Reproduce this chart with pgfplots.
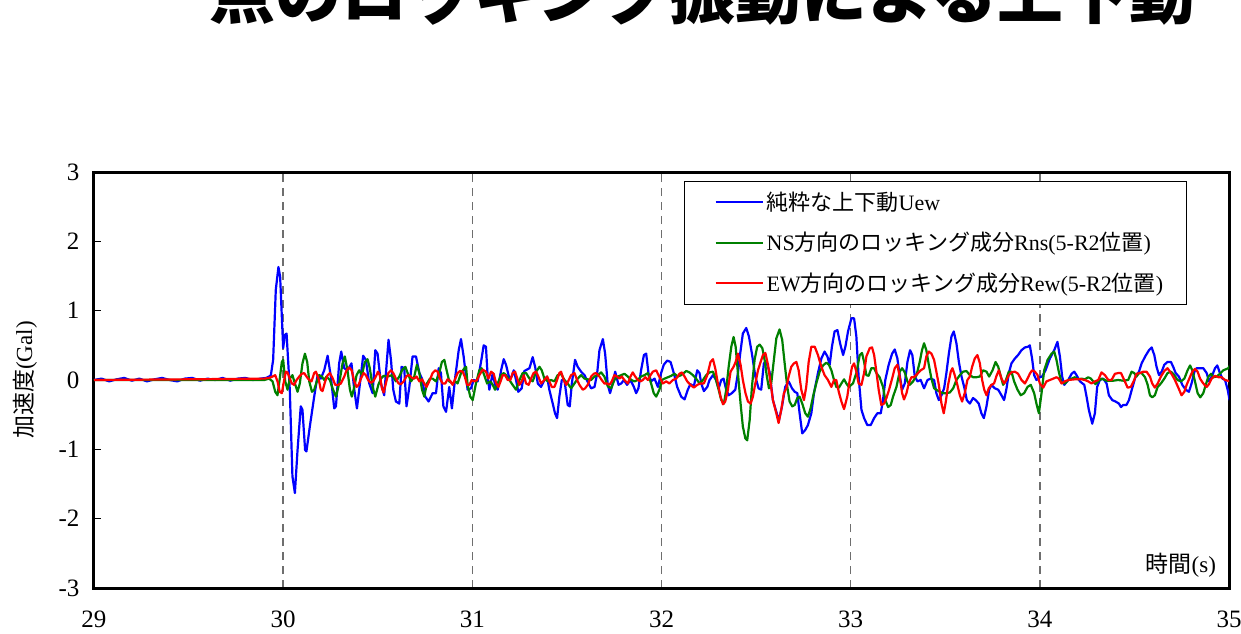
\documentclass[border=0pt]{standalone}
\usepackage{pgfplots}
\pgfplotsset{compat=1.18}
\usepackage{pgfplotstable}
\usepackage{fontspec}
\setmainfont{Liberation Serif}
\newfontfamily\ja{Noto Sans CJK JP}
\definecolor{cblue}{RGB}{0,0,255}
\definecolor{cgreen}{RGB}{0,128,0}
\definecolor{cred}{RGB}{255,0,0}
\definecolor{cgrid}{RGB}{110,110,110}

\pgfplotstableread{
t v
29.00 0.00
29.04 0.02
29.08 -0.02
29.12 0.01
29.16 0.03
29.20 -0.01
29.24 0.02
29.28 -0.02
29.32 0.01
29.36 0.03
29.40 0.00
29.44 -0.02
29.48 0.02
29.52 0.03
29.56 -0.01
29.60 0.02
29.64 0.00
29.68 0.03
29.72 -0.01
29.76 0.02
29.80 0.03
29.84 0.00
29.88 0.02
29.91 0.03
29.926 0.05
29.935 0.07
29.947 0.29
29.961 1.30
29.975 1.63
29.984 1.49
29.993 0.91
30.000 0.46
30.009 0.65
30.018 0.67
30.026 0.29
30.035 -0.14
30.049 -1.39
30.062 -1.63
30.076 -1.01
30.093 -0.38
30.102 -0.43
30.116 -1.01
30.123 -1.03
30.141 -0.67
30.164 -0.24
30.182 0.07
30.199 0.02
30.217 0.14
30.235 0.35
30.252 0.05
30.270 -0.41
30.279 -0.38
30.296 0.24
30.307 0.41
30.323 0.17
30.340 0.14
30.361 0.24
30.376 -0.14
30.390 -0.41
30.406 -0.05
30.423 0.35
30.437 0.29
30.455 -0.05
30.473 -0.19
30.487 0.43
30.499 0.38
30.517 -0.05
30.534 -0.22
30.557 0.58
30.570 0.29
30.582 -0.14
30.596 -0.31
30.614 -0.34
30.626 0.19
30.640 0.17
30.652 -0.38
30.667 -0.10
30.684 0.34
30.702 0.34
30.720 0.10
30.734 0.02
30.751 -0.24
30.769 -0.31
30.790 -0.19
30.808 -0.19
30.822 0.17
30.834 0.10
30.847 -0.38
30.861 -0.46
30.878 -0.10
30.892 -0.41
30.910 0.05
30.928 0.43
30.940 0.59
30.954 0.34
30.975 -0.14
30.993 -0.12
31.007 0.00
31.028 -0.02
31.049 0.31
31.060 0.50
31.072 0.48
31.081 0.05
31.090 -0.14
31.108 0.10
31.120 -0.07
31.134 -0.14
31.152 0.14
31.166 0.30
31.178 0.22
31.196 0.02
31.208 0.05
31.219 0.14
31.231 0.00
31.243 -0.17
31.261 -0.12
31.275 0.13
31.302 0.17
31.319 0.33
31.332 0.19
31.346 -0.05
31.363 -0.10
31.381 0.00
31.395 0.05
31.407 -0.14
31.425 -0.34
31.437 -0.48
31.448 -0.55
31.460 -0.24
31.473 0.00
31.487 0.00
31.504 -0.36
31.515 -0.38
31.526 -0.05
31.543 0.29
31.557 0.19
31.575 0.12
31.593 0.07
31.614 -0.05
31.628 -0.12
31.646 -0.10
31.660 0.10
31.672 0.43
31.690 0.59
31.702 0.38
31.716 -0.07
31.728 -0.19
31.742 -0.05
31.755 0.12
31.773 -0.07
31.787 -0.05
31.801 0.00
31.818 -0.07
31.836 0.00
31.854 -0.10
31.866 -0.19
31.878 -0.12
31.892 0.14
31.907 0.36
31.919 0.38
31.931 0.10
31.945 -0.02
31.963 0.02
31.981 -0.10
31.998 0.10
32.012 0.22
32.030 0.28
32.048 0.26
32.065 0.10
32.083 -0.10
32.104 -0.24
32.122 -0.28
32.139 -0.14
32.153 -0.06
32.171 -0.09
32.189 0.14
32.201 0.10
32.210 -0.05
32.224 -0.16
32.242 -0.10
32.254 0.00
32.272 0.07
32.289 0.00
32.302 -0.12
32.316 0.00
32.328 0.02
32.342 -0.14
32.355 -0.22
32.372 -0.19
32.390 -0.14
32.404 0.10
32.416 0.38
32.430 0.67
32.448 0.75
32.462 0.63
32.478 0.38
32.496 0.05
32.513 -0.12
32.527 -0.14
32.541 0.24
32.554 0.26
32.571 0.12
32.589 -0.29
32.607 -0.46
32.621 -0.58
32.637 -0.38
32.654 -0.10
32.672 -0.02
32.690 -0.12
32.704 -0.17
32.718 -0.19
32.730 -0.48
32.744 -0.77
32.760 -0.72
32.774 -0.65
32.792 -0.48
32.806 -0.19
32.827 0.10
32.845 0.31
32.862 0.41
32.877 0.34
32.889 0.22
32.901 0.48
32.915 0.70
32.930 0.72
32.944 0.53
32.960 0.36
32.972 0.48
32.986 0.70
33.004 0.89
33.018 0.89
33.030 0.63
33.042 0.05
33.057 -0.43
33.071 -0.55
33.088 -0.65
33.106 -0.65
33.124 -0.55
33.141 -0.48
33.159 -0.48
33.171 -0.29
33.183 0.00
33.201 0.22
33.219 0.38
33.233 0.44
33.247 0.31
33.259 0.07
33.272 -0.14
33.286 -0.05
33.300 0.26
33.314 0.43
33.326 0.36
33.339 0.05
33.353 -0.02
33.370 0.00
33.388 -0.12
33.406 0.00
33.423 0.02
33.441 0.00
33.453 -0.19
33.466 -0.29
33.480 -0.22
33.494 -0.12
33.506 0.10
33.519 0.38
33.533 0.63
33.545 0.70
33.559 0.53
33.572 0.26
33.586 0.05
33.600 -0.10
33.614 -0.29
33.630 -0.34
33.647 -0.26
33.661 -0.29
33.677 -0.34
33.691 -0.48
33.704 -0.55
33.718 -0.38
33.732 -0.14
33.744 -0.07
33.762 -0.12
33.780 -0.14
33.797 -0.22
33.811 -0.29
33.824 -0.12
33.836 0.10
33.850 0.24
33.868 0.31
33.885 0.36
33.903 0.43
33.921 0.47
33.938 0.48
33.947 0.50
33.959 0.31
33.970 0.07
33.982 0.00
34.000 0.04
34.012 0.05
34.030 0.14
34.053 0.31
34.076 0.43
34.093 0.55
34.106 0.34
34.118 0.05
34.129 -0.07
34.150 0.00
34.168 0.09
34.182 0.12
34.194 0.07
34.212 -0.02
34.235 -0.07
34.247 -0.24
34.259 -0.43
34.277 -0.63
34.291 -0.48
34.303 -0.10
34.317 0.00
34.335 0.02
34.353 -0.05
34.365 -0.22
34.383 -0.29
34.400 -0.31
34.418 -0.34
34.429 -0.39
34.441 -0.36
34.458 -0.36
34.471 -0.29
34.488 -0.12
34.506 0.05
34.524 0.12
34.538 0.24
34.559 0.35
34.577 0.43
34.591 0.47
34.605 0.36
34.617 0.19
34.630 0.07
34.644 0.12
34.658 0.22
34.675 0.26
34.693 0.26
34.705 0.19
34.718 0.10
34.735 0.05
34.753 -0.07
34.771 -0.14
34.788 -0.17
34.802 -0.05
34.817 0.12
34.829 0.17
34.847 0.17
34.864 0.17
34.882 0.10
34.894 -0.02
34.912 0.07
34.926 0.17
34.938 0.21
34.952 0.10
34.965 0.02
34.979 0.00
34.993 -0.14
35.003 -0.29
}\uew

\pgfplotstableread{
t v
29.00 0.00
29.50 0.00
29.90 0.00
29.926 0.02
29.944 -0.02
29.958 -0.17
29.970 -0.22
29.982 0.02
29.993 0.26
30.000 0.29
30.011 -0.02
30.023 -0.14
30.035 0.02
30.049 0.07
30.062 -0.05
30.076 -0.17
30.088 -0.05
30.102 0.24
30.115 0.38
30.127 0.26
30.138 -0.02
30.152 -0.17
30.164 -0.14
30.178 -0.02
30.190 0.07
30.205 0.05
30.217 0.00
30.229 0.05
30.247 0.00
30.261 -0.12
30.279 -0.24
30.296 -0.05
30.314 0.24
30.326 0.34
30.340 0.14
30.353 -0.14
30.363 -0.24
30.376 -0.10
30.388 0.07
30.402 0.14
30.416 0.07
30.432 0.26
30.446 0.30
30.458 0.17
30.473 -0.10
30.487 -0.24
30.503 -0.07
30.517 0.02
30.531 0.06
30.552 0.05
30.575 0.07
30.596 -0.02
30.614 0.05
30.628 0.14
30.646 0.19
30.658 0.10
30.676 -0.02
30.693 0.05
30.707 0.22
30.720 0.10
30.734 -0.14
30.746 -0.24
30.760 -0.05
30.776 0.02
30.790 0.02
30.808 -0.02
30.825 0.10
30.839 0.26
30.852 0.29
30.864 0.14
30.878 -0.02
30.896 -0.05
30.910 -0.02
30.922 -0.05
30.940 0.10
30.958 0.17
30.967 0.19
30.975 -0.07
30.989 -0.24
31.002 -0.29
31.019 -0.05
31.037 0.14
31.049 0.17
31.063 0.07
31.078 -0.05
31.095 -0.02
31.108 -0.07
31.120 -0.14
31.134 -0.05
31.152 0.07
31.166 0.10
31.178 0.07
31.196 0.00
31.213 -0.07
31.231 -0.14
31.249 0.00
31.266 0.10
31.284 0.10
31.302 0.02
31.319 -0.02
31.337 0.12
31.355 0.19
31.367 0.14
31.381 0.02
31.399 -0.02
31.416 0.00
31.434 -0.02
31.451 0.07
31.469 0.09
31.487 0.00
31.504 -0.05
31.522 -0.12
31.540 -0.05
31.557 0.02
31.575 0.07
31.593 0.02
31.628 0.00
31.646 0.05
31.663 0.07
31.681 0.11
31.698 0.05
31.716 -0.09
31.734 -0.12
31.751 0.00
31.769 0.05
31.787 0.07
31.804 0.09
31.822 0.05
31.840 0.00
31.857 -0.02
31.875 0.00
31.892 0.05
31.910 0.07
31.928 0.10
31.945 -0.05
31.959 -0.19
31.972 -0.24
31.989 -0.14
32.002 0.00
32.016 0.02
32.034 0.04
32.051 0.06
32.069 0.09
32.086 0.05
32.104 0.07
32.131 0.13
32.148 0.11
32.166 0.07
32.183 0.02
32.201 -0.05
32.219 0.00
32.236 0.07
32.254 0.11
32.272 0.12
32.286 0.02
32.302 -0.14
32.316 -0.29
32.330 -0.34
32.342 -0.14
32.355 0.19
32.369 0.48
32.381 0.62
32.392 0.48
32.404 0.10
32.418 -0.34
32.430 -0.67
32.443 -0.84
32.453 -0.87
32.466 -0.58
32.478 -0.10
32.492 0.29
32.506 0.48
32.519 0.51
32.533 0.46
32.545 0.29
32.557 0.05
32.568 -0.12
32.580 -0.05
32.594 0.29
32.607 0.60
32.624 0.73
32.638 0.58
32.651 0.24
32.665 -0.10
32.677 -0.31
32.691 -0.38
32.704 -0.36
32.718 -0.26
32.730 -0.24
32.744 -0.34
32.760 -0.48
32.774 -0.53
32.788 -0.41
32.801 -0.24
32.818 -0.05
32.836 0.12
32.854 0.21
32.871 0.25
32.885 0.22
32.898 0.14
32.912 0.00
32.924 -0.10
32.938 -0.11
32.951 -0.05
32.965 0.01
32.977 -0.05
32.990 -0.10
33.012 -0.05
33.030 0.10
33.048 0.36
33.060 0.39
33.071 0.26
33.083 0.07
33.095 0.06
33.109 0.17
33.124 0.17
33.136 0.10
33.153 0.04
33.171 -0.10
33.183 -0.29
33.198 -0.39
33.212 -0.36
33.224 -0.24
33.242 -0.10
33.259 0.12
33.272 0.17
33.286 0.11
33.300 -0.02
33.312 -0.07
33.330 -0.02
33.348 0.07
33.365 0.26
33.377 0.43
33.388 0.53
33.400 0.43
33.413 0.22
33.427 0.02
33.441 -0.12
33.453 -0.14
33.471 -0.17
33.489 -0.19
33.506 -0.19
33.524 -0.18
33.542 -0.12
33.559 0.00
33.577 0.07
33.594 0.12
33.612 0.13
33.630 0.07
33.647 0.04
33.665 0.04
33.683 0.05
33.700 0.14
33.718 0.12
33.732 0.05
33.750 0.14
33.766 0.26
33.780 0.19
33.794 0.05
33.806 -0.07
33.818 -0.02
33.836 0.12
33.850 0.12
33.864 -0.02
33.882 -0.14
33.899 -0.22
33.917 -0.19
33.935 -0.10
33.952 -0.07
33.970 -0.19
33.982 -0.34
33.995 -0.48
34.009 -0.19
34.023 0.14
34.041 0.29
34.062 0.38
34.076 0.41
34.088 0.29
34.100 0.12
34.115 -0.04
34.132 -0.05
34.150 0.00
34.168 0.02
34.185 0.04
34.203 0.01
34.220 0.02
34.238 0.01
34.256 0.04
34.270 0.02
34.282 -0.02
34.294 -0.06
34.309 -0.02
34.326 0.02
34.353 -0.01
34.388 -0.01
34.414 0.00
34.441 -0.01
34.467 0.00
34.485 0.12
34.499 0.10
34.511 0.05
34.524 0.10
34.538 0.10
34.556 0.04
34.570 -0.07
34.582 -0.22
34.594 -0.25
34.608 -0.22
34.623 -0.10
34.640 -0.05
34.658 0.02
34.675 0.10
34.693 0.12
34.711 0.07
34.728 0.00
34.746 -0.02
34.764 0.02
34.781 0.14
34.794 0.21
34.806 0.14
34.820 -0.02
34.834 -0.19
34.848 -0.25
34.864 -0.19
34.877 -0.07
34.891 0.05
34.905 0.09
34.917 0.04
34.935 0.05
34.952 0.09
34.970 0.14
34.996 0.17
35.007 0.22
}\rns

\pgfplotstableread{
t v
29.00 0.00
29.50 0.01
29.90 0.02
29.926 0.03
29.944 0.05
29.958 0.07
29.970 -0.02
29.982 -0.17
29.993 -0.19
30.002 -0.05
30.014 0.12
30.023 0.11
30.035 0.02
30.046 -0.05
30.058 -0.07
30.071 0.00
30.085 0.05
30.099 0.09
30.111 0.10
30.123 0.05
30.138 0.00
30.150 -0.02
30.164 0.10
30.173 0.12
30.187 0.02
30.199 -0.14
30.208 -0.16
30.222 -0.02
30.235 0.07
30.247 0.10
30.261 0.03
30.275 -0.07
30.291 -0.07
30.305 -0.05
30.323 0.05
30.335 0.14
30.349 0.18
30.362 0.14
30.376 -0.02
30.388 -0.10
30.399 -0.07
30.411 0.02
30.425 0.10
30.437 0.07
30.451 -0.01
30.464 -0.04
30.476 -0.02
30.490 0.05
30.501 0.12
30.511 0.07
30.522 -0.12
30.531 -0.18
30.543 -0.05
30.556 0.10
30.570 0.14
30.582 0.10
30.596 0.02
30.610 -0.05
30.623 -0.06
30.637 -0.02
30.653 0.06
30.667 0.07
30.681 0.03
30.693 0.02
30.705 0.05
30.720 -0.02
30.734 0.01
30.746 -0.05
30.758 -0.10
30.772 -0.02
30.790 0.10
30.804 0.14
30.817 0.12
30.829 0.02
30.843 -0.05
30.857 -0.05
30.869 0.01
30.882 -0.01
30.896 -0.07
30.910 0.02
30.922 0.10
30.935 0.13
30.949 0.12
30.960 0.05
30.972 -0.07
30.984 -0.07
30.997 0.00
31.011 -0.02
31.025 0.00
31.037 0.07
31.055 0.15
31.072 0.12
31.085 0.02
31.099 0.12
31.113 0.09
31.125 -0.04
31.138 -0.10
31.152 0.00
31.160 0.07
31.173 0.07
31.187 0.00
31.201 0.00
31.213 0.10
31.226 0.12
31.240 0.00
31.249 -0.07
31.261 -0.02
31.272 0.07
31.284 -0.05
31.298 -0.07
31.310 0.02
31.324 0.10
31.337 0.12
31.349 0.05
31.363 -0.05
31.381 0.00
31.395 0.05
31.407 -0.02
31.420 -0.10
31.434 -0.10
31.448 0.00
31.460 0.10
31.469 0.12
31.483 0.00
31.496 -0.07
31.508 -0.01
31.522 0.07
31.540 0.10
31.554 0.00
31.566 -0.07
31.584 -0.14
31.596 -0.12
31.610 -0.07
31.628 0.05
31.642 0.09
31.654 0.10
31.672 0.05
31.684 0.00
31.698 -0.05
31.713 -0.05
31.725 -0.07
31.737 -0.02
31.751 0.07
31.765 0.05
31.778 0.02
31.790 0.05
31.804 0.00
31.822 -0.05
31.836 0.05
31.848 0.11
31.861 0.05
31.875 0.00
31.889 -0.02
31.901 0.00
31.914 0.04
31.928 0.00
31.942 0.07
31.954 0.12
31.972 0.14
31.984 0.07
31.998 0.00
32.007 -0.05
32.025 -0.02
32.042 -0.05
32.060 0.00
32.078 0.02
32.095 0.09
32.108 0.11
32.122 0.05
32.136 -0.02
32.153 -0.07
32.171 -0.11
32.189 -0.07
32.206 -0.05
32.224 -0.05
32.242 0.07
32.259 0.26
32.272 0.30
32.284 0.17
32.298 -0.05
32.312 -0.24
32.325 -0.35
32.337 -0.31
32.351 -0.14
32.365 0.12
32.381 0.19
32.392 0.26
32.404 0.38
32.418 0.22
32.430 0.00
32.444 -0.19
32.457 -0.31
32.471 -0.34
32.483 -0.24
32.496 -0.05
32.510 0.14
32.524 0.26
32.536 0.36
32.549 0.39
32.563 0.22
32.577 -0.05
32.589 -0.29
32.607 -0.48
32.619 -0.62
32.633 -0.43
32.647 -0.19
32.660 -0.12
32.672 0.05
32.686 0.19
32.700 0.24
32.713 0.26
32.725 0.14
32.739 -0.14
32.753 -0.29
32.765 -0.10
32.778 0.26
32.792 0.48
32.810 0.48
32.827 0.36
32.845 0.19
32.862 0.07
32.880 0.00
32.898 -0.10
32.912 0.00
32.924 0.00
32.937 -0.17
32.951 -0.31
32.965 -0.42
32.982 -0.24
32.995 0.00
33.007 0.19
33.018 0.24
33.030 0.12
33.042 -0.05
33.057 -0.07
33.071 0.10
33.083 0.34
33.101 0.46
33.113 0.47
33.124 0.36
33.136 0.12
33.148 -0.14
33.162 -0.36
33.176 -0.34
33.189 -0.26
33.203 -0.14
33.219 0.02
33.233 0.17
33.247 0.22
33.259 0.05
33.272 -0.19
33.282 -0.28
33.295 -0.19
33.307 -0.05
33.321 0.04
33.335 0.04
33.353 0.09
33.370 0.14
33.388 0.17
33.400 0.34
33.413 0.41
33.427 0.38
33.441 0.29
33.453 0.12
33.466 -0.07
33.480 -0.34
33.492 -0.48
33.503 -0.31
33.515 -0.07
33.529 0.12
33.538 0.17
33.550 0.07
33.564 -0.07
33.577 -0.22
33.589 -0.31
33.603 -0.19
33.617 0.00
33.630 0.05
33.642 0.19
33.656 0.31
33.670 0.36
33.683 0.24
33.695 0.00
33.706 -0.14
33.718 -0.22
33.730 -0.12
33.744 -0.07
33.758 -0.05
33.771 0.06
33.783 0.14
33.797 0.02
33.811 -0.05
33.824 0.00
33.836 0.07
33.850 0.11
33.868 0.12
33.885 0.09
33.903 0.00
33.921 -0.05
33.935 0.02
33.947 0.09
33.959 0.14
33.974 0.12
33.988 0.07
34.000 -0.05
34.018 -0.11
34.035 -0.02
34.053 0.00
34.071 0.02
34.088 0.04
34.100 0.02
34.115 -0.05
34.132 -0.02
34.150 0.00
34.185 0.01
34.220 0.01
34.238 0.00
34.256 -0.02
34.273 -0.05
34.291 -0.02
34.309 0.00
34.326 0.11
34.344 0.07
34.362 0.00
34.379 0.00
34.397 0.09
34.414 0.10
34.429 0.10
34.446 0.00
34.464 -0.11
34.481 -0.10
34.499 0.00
34.511 0.09
34.529 0.10
34.547 0.12
34.564 0.12
34.582 0.05
34.594 -0.05
34.608 -0.11
34.623 -0.05
34.640 0.05
34.658 0.13
34.675 0.17
34.688 0.12
34.700 0.07
34.714 0.00
34.732 -0.11
34.749 -0.22
34.764 -0.17
34.776 -0.07
34.790 0.02
34.806 0.12
34.820 0.16
34.834 0.12
34.847 0.02
34.864 -0.05
34.882 -0.10
34.894 -0.06
34.908 0.02
34.926 0.06
34.944 0.04
34.961 0.04
34.979 0.00
35.007 -0.02
}\rew

\begin{document}
\begin{tikzpicture}
\begin{axis}[
  at={(0pt,0pt)}, anchor=south west,
  scale only axis, width=567.5pt, height=208pt,
  xmin=29, xmax=35, ymin=-3, ymax=3,
  xtick={29,30,31,32,33,34,35},
  xticklabels={29,30,31,32,33,34,35},
  ytick={-3,-2,-1,0,1,2,3},
  yticklabels={-3,-2,-1,0,1,2,3},
  ytick pos=left,
  tick align=inside,
  major tick length=3.5pt,
  xtick style={draw=none},
  ytick style={black, line width=0.6pt},
  axis line style={black, line width=1.5pt},
  tick label style={font=\fontsize{12.5}{14}\selectfont},
  xticklabel style={yshift=-8pt},
  yticklabel style={xshift=-3.8pt},
  xmajorgrids,
  major x grid style={cgrid, line width=0.75pt, dash pattern=on 4pt off 3pt},
  ylabel={{\ja 加速度}(Gal)},
  ylabel style={at={(axis description cs:-0.0608,0.5)}, anchor=center, font=\fontsize{11.5}{13}\selectfont},
  xlabel={{\ja 時間}(s)},
  xlabel style={at={(axis description cs:1,0)}, anchor=east, xshift=-3pt, yshift=11.5pt, font=\fontsize{11.5}{13}\selectfont},
  legend style={at={(axis description cs:0.5198,0.9784)}, anchor=north west,
    draw=black, line width=0.6pt, fill=white,
    font=\fontsize{11}{13}\selectfont,
    inner xsep=10pt, inner ysep=3.5pt, row sep=6.5pt,
    nodes={inner sep=1.5pt}},
  legend cell align=left,
  legend image code/.code={\path (0pt,0pt); \draw[#1, line width=1pt] (5pt,0pt) -- (28.5pt,0pt);},
  every axis plot/.append style={line width=1.1pt, line join=round},
]
\addplot[cblue] table[x=t, y=v] {\uew};
\addlegendentry{{\ja 純粋な上下動}Uew}
\addplot[cgreen] table[x=t, y=v] {\rns};
\addlegendentry{NS{\ja 方向のロッキング成分}Rns(5-R2{\ja 位置})}
\addplot[cred] table[x=t, y=v] {\rew};
\addlegendentry{EW{\ja 方向のロッキング成分}Rew(5-R2{\ja 位置})}
\end{axis}
\node[overlay, anchor=base west, inner sep=0pt, font=\fontsize{33}{36}\selectfont] at (57.5pt,284.5pt) {\ja\bfseries 点のロッキング振動による上下動};
\pgfresetboundingbox
\useasboundingbox (-47pt,-22.5pt) rectangle (573.5pt,294pt);
\end{tikzpicture}
\end{document}
